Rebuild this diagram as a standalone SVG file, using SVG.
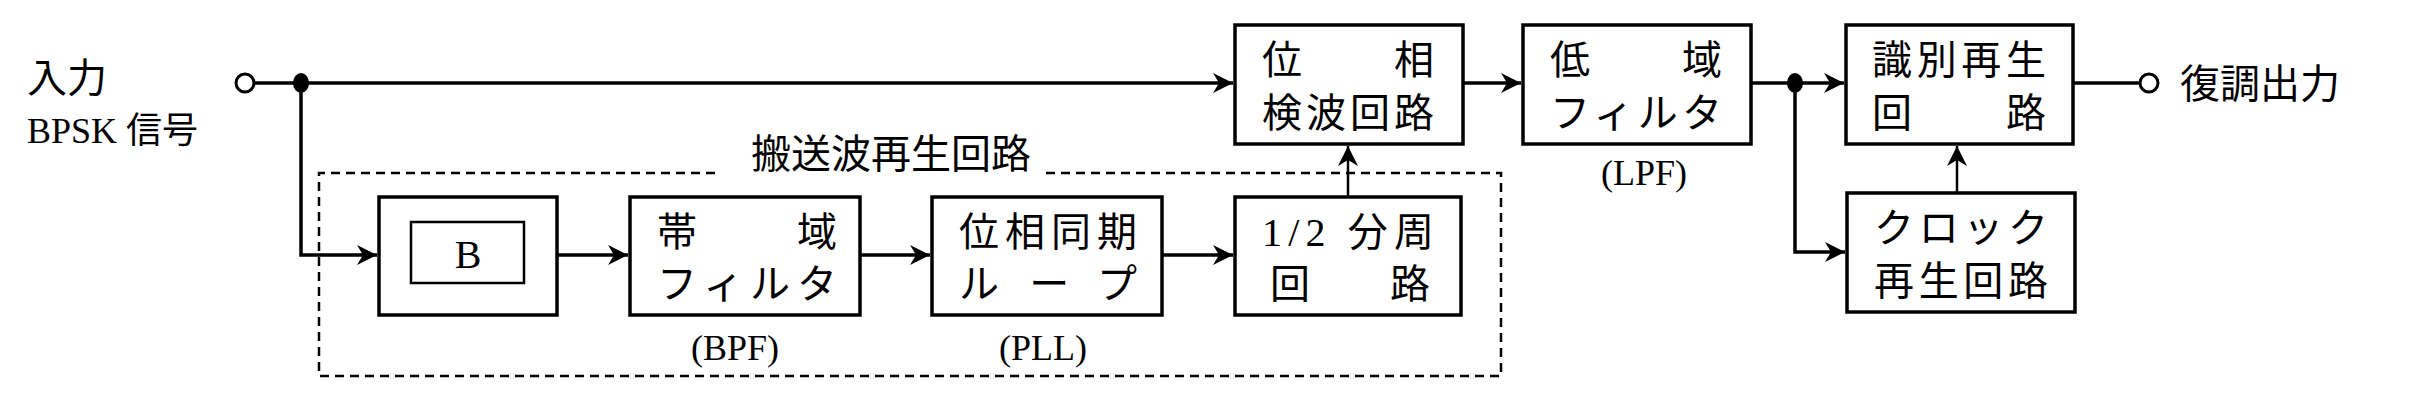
<svg xmlns="http://www.w3.org/2000/svg" width="2423" height="405" viewBox="0 0 2423 405">
<style>
.b{fill:#fff;stroke:#000;stroke-width:3.5}
.w{stroke:#000;stroke-width:3.5;fill:none}
.t{font-family:"Liberation Serif","Noto Sans CJK JP",serif;font-size:40px;fill:#000}
.s{font-family:"Liberation Serif","Noto Sans CJK JP",serif;font-size:36px;fill:#000}
</style>
<defs>
<marker id="a" markerUnits="userSpaceOnUse" markerWidth="24" markerHeight="20" refX="20" refY="10" orient="auto"><path d="M0,0 L20,10 L0,20 L6,10 z" fill="#000"/></marker>
</defs>
<g id="connectors">
<path class="w" d="M253,83 H1233" marker-end="url(#a)"/>
<path class="w" d="M301,83 V255 H377" marker-end="url(#a)"/>
<path class="w" d="M557,255 H628" marker-end="url(#a)"/>
<path class="w" d="M860,255 H930" marker-end="url(#a)"/>
<path class="w" d="M1162,255 H1233" marker-end="url(#a)"/>
<path class="w" d="M1348,197 V146" marker-end="url(#a)" style="stroke-width:2.5"/>
<path class="w" d="M1463,83 H1521" marker-end="url(#a)"/>
<path class="w" d="M1751,83 H1844" marker-end="url(#a)"/>
<path class="w" d="M1795,83 V252 H1845" marker-end="url(#a)"/>
<path class="w" d="M1957,193 V146" marker-end="url(#a)" style="stroke-width:2.5"/>
<path class="w" d="M2073,83 H2141"/>
<circle cx="245" cy="83" r="9" fill="#fff" stroke="#000" stroke-width="3"/>
<circle cx="2149" cy="83" r="9" fill="#fff" stroke="#000" stroke-width="3"/>
<ellipse cx="301" cy="83" rx="8" ry="10" fill="#000"/>
<ellipse cx="1795" cy="83" rx="8" ry="10" fill="#000"/>
</g>
<g id="labels">
<text class="t" x="27" y="92">入力</text>
<text class="t" x="27" y="143" style="font-size:36px">BPSK 信号</text>
<text class="t" x="2180" y="98">復調出力</text>
</g>
<g id="carrier">
<path d="M715,173 H319 V376 H1501 V173 H1045" fill="none" stroke="#000" stroke-width="2.5" stroke-dasharray="9,6"/>
<text class="t" x="891" y="168" text-anchor="middle">搬送波再生回路</text>
</g>
<g id="b"><rect class="b" x="379" y="197" width="178" height="118"/><rect x="411" y="222" width="113" height="61" fill="none" stroke="#000" stroke-width="2.5"/><text class="t" x="468" y="268" text-anchor="middle">B</text></g>
<g id="bpf"><rect class="b" x="630" y="197" width="230" height="118"/><text class="t" x="657" y="246" textLength="180" lengthAdjust="spacing">帯域</text><text class="t" x="657" y="298" textLength="180" lengthAdjust="spacing">フィルタ</text><text class="s" x="735" y="360" text-anchor="middle">(BPF)</text></g>
<g id="pll"><rect class="b" x="932" y="197" width="230" height="118"/><text class="t" x="959" y="246" textLength="178" lengthAdjust="spacing">位相同期</text><text class="t" x="959" y="298" textLength="178" lengthAdjust="spacing">ループ</text><text class="s" x="1043" y="360" text-anchor="middle">(PLL)</text></g>
<g id="div"><rect class="b" x="1235" y="197" width="226" height="118"/><text class="t" x="1262" y="246" textLength="172" lengthAdjust="spacing">1/2 分周</text><text class="t" x="1270" y="298" textLength="160" lengthAdjust="spacing">回路</text></g>
<g id="pd"><rect class="b" x="1235" y="25" width="228" height="119"/><text class="t" x="1262" y="74" textLength="172" lengthAdjust="spacing">位相</text><text class="t" x="1262" y="127" textLength="172" lengthAdjust="spacing">検波回路</text></g>
<g id="lpf"><rect class="b" x="1523" y="25" width="228" height="119"/><text class="t" x="1550" y="74" textLength="172" lengthAdjust="spacing">低域</text><text class="t" x="1550" y="127" textLength="172" lengthAdjust="spacing">フィルタ</text><text class="s" x="1644" y="185" text-anchor="middle">(LPF)</text></g>
<g id="dec"><rect class="b" x="1846" y="25" width="227" height="119"/><text class="t" x="1872" y="74" textLength="174" lengthAdjust="spacing">識別再生</text><text class="t" x="1872" y="127" textLength="174" lengthAdjust="spacing">回路</text></g>
<g id="clk"><rect class="b" x="1847" y="193" width="228" height="119"/><text class="t" x="1874" y="242" textLength="174" lengthAdjust="spacing">クロック</text><text class="t" x="1874" y="295" textLength="174" lengthAdjust="spacing">再生回路</text></g>
</svg>
